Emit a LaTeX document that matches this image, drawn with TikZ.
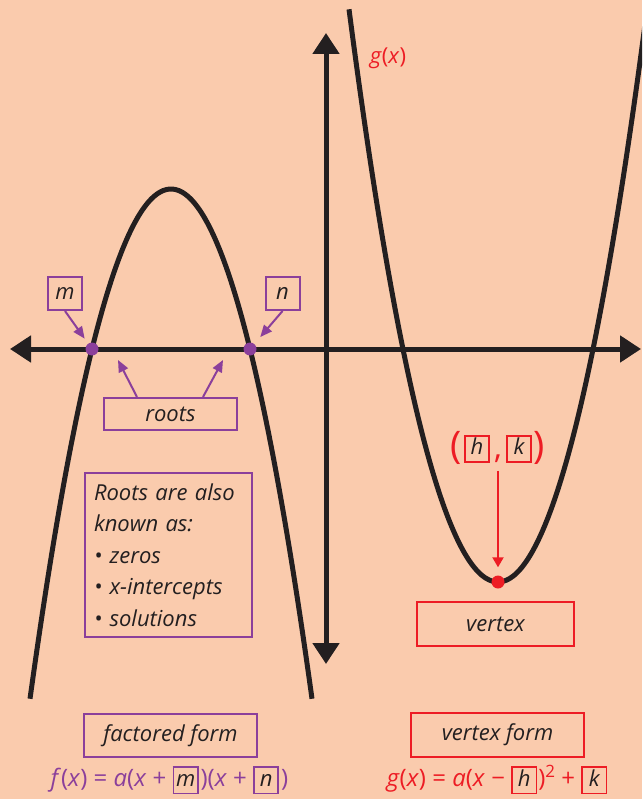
\documentclass[tikz,border=0pt]{standalone}
\usepackage{fontspec}
\setmainfont{Open Sans}
\usetikzlibrary{arrows.meta}

\definecolor{bgc}{RGB}{250,203,173}
\definecolor{ink}{RGB}{35,31,32}
\definecolor{plum}{RGB}{139,63,155}
\definecolor{scarlet}{RGB}{237,28,36}

% small framed placeholder used inside the formulas
\newcommand\slot[2]{{\fontsize{22}{26}\selectfont\setlength\fboxrule{1.7pt}\setlength\fboxsep{1.3pt}%
  \fcolorbox{#1}{bgc}{\makebox[20pt]{\color{ink}\itshape\vphantom{hg}#2}}}}

\begin{document}
\begin{tikzpicture}[x=1pt, y=-1pt,
  curve/.style={line width=5pt, draw=ink},
  axis/.style={line width=5pt, draw=ink,
    {Triangle[length=21pt,width=26pt]}-{Triangle[length=21pt,width=26pt]}},
  lbl/.style={font=\itshape\fontsize{22}{26}\selectfont, text=ink},
  pbox/.style={lbl, draw=plum, line width=2pt, inner sep=0pt},
  rbox/.style={lbl, draw=scarlet, line width=2pt, inner sep=0pt},
  parrow/.style={draw=plum, line width=2pt, -{Triangle[length=12pt,width=10pt]}},
  rarrow/.style={draw=scarlet, line width=2pt, -{Triangle[length=10pt,width=11pt]}},
  dot/.style={circle, inner sep=0pt, minimum size=13pt},
  formula/.style={font=\fontsize{24}{28}\selectfont, anchor=base west}]

\fill[bgc] (0,0) rectangle (642,799);
\useasboundingbox (0,0) rectangle (642,799);

% the two parabolas, clipped to the frame
\begin{scope}
  \clip (0,0) rectangle (642,799);
  \draw[curve] plot[domain=30:312, samples=90, smooth] (\x, {189+(0.16013*(\x-171))^2});
  \draw[curve] plot[domain=349:660, samples=90, smooth] (\x, {582-(0.16062*(\x-498))^2});
\end{scope}

% axes
\coordinate (xl) at (10,349);
\coordinate (xr) at (641,349);
\coordinate (yt) at (326,33);
\coordinate (yb) at (326,664);
\draw[axis] (xl) -- (xr);
\draw[axis] (yt) -- (yb);

% roots and vertex markers
\node[dot, fill=plum] (dm) at (92,349) {};
\node[dot, fill=plum] (dn) at (250,349) {};
\node[dot, fill=scarlet] (dv) at (498,582) {};

% labels for the roots
\node[pbox, minimum width=34pt, minimum height=33pt] (mb) at (65,293.5) {m};
\node[pbox, minimum width=34pt, minimum height=33pt] (nb) at (282.5,293.5) {n};
\draw[parrow, shorten >=6pt] (mb.south) -- (dm);
\draw[parrow, shorten >=9pt] (nb.south) -- (dn);

\node[pbox, minimum width=133pt, minimum height=32pt] (roots) at (170.5,414) {roots};
\coordinate (r1) at (118,360);
\coordinate (r2) at (223,360);
\draw[parrow] ([xshift=-33.5pt]roots.north) -- (r1);
\draw[parrow] ([xshift=32.5pt]roots.north) -- (r2);

\node[pbox, anchor=north west, align=left, text width=149pt,
      inner xsep=9pt, inner ysep=10.5pt,
      font=\itshape\fontsize{22}{31.5}\selectfont] (aka) at (84,472)
  {Roots are also\\known as:\\• zeros\\• x-intercepts\\• solutions};

% vertex label
\node[text=scarlet, font=\fontsize{22}{26}\selectfont] (gl) at (388,58) {\textit{g}(\textit{x})};
\node[text=scarlet, font=\fontsize{22}{26}\selectfont, inner sep=2pt] (hk) at (498,448)
  {{\fontsize{38}{38}\selectfont(}\hspace{2pt}\raisebox{4pt}{\slot{scarlet}{h}}\hspace{4pt}{\fontsize{32}{32}\selectfont,}\hspace{4pt}\raisebox{4pt}{\slot{scarlet}{k}}\hspace{2pt}{\fontsize{38}{38}\selectfont)}};
\draw[rarrow, shorten <=4pt, shorten >=8pt] (hk) -- (dv);
\node[rbox, minimum width=157pt, minimum height=44pt] (vx) at (495.5,624) {vertex};

% the two forms
\node[pbox, minimum width=173pt, minimum height=43pt] (fac) at (170.5,735.5) {factored form};
\node[rbox, minimum width=173pt, minimum height=44pt] (vtx) at (497.5,735) {vertex form};

\node[formula, text=plum] (ff) at (47,786)
  {\textit{f}(\textit{x}) = \textit{a}(\textit{x} + \slot{plum}{m}\hspace{2pt})(\textit{x} + \slot{plum}{n}\hspace{2pt})};
\node[formula, text=scarlet] (gf) at (383,786)
  {\textit{g}(\textit{x}) = \textit{a}(\textit{x} − \slot{scarlet}{h}\hspace{1pt})\raisebox{9pt}{\fontsize{17}{17}\selectfont 2} + \slot{scarlet}{k}};
\end{tikzpicture}
\end{document}
